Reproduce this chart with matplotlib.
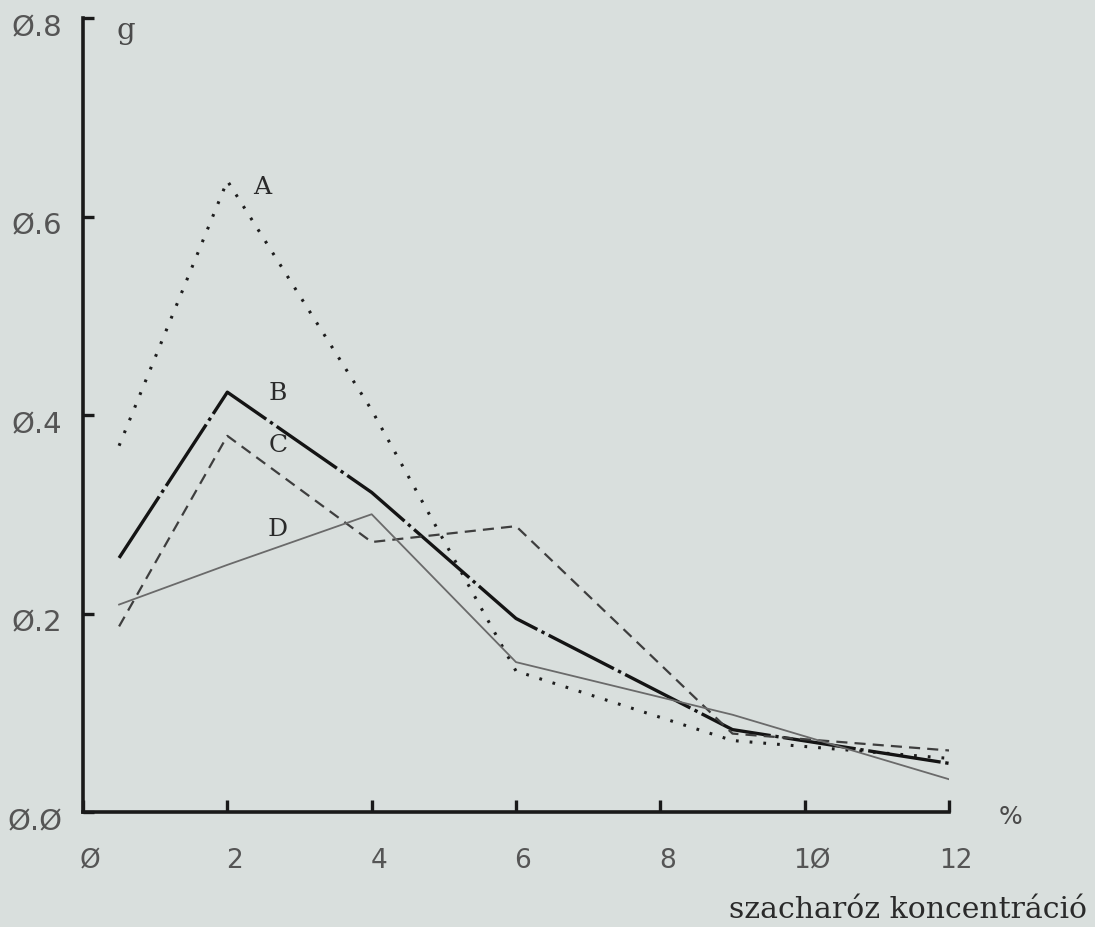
import matplotlib
matplotlib.use("Agg")
import matplotlib.pyplot as plt
import matplotlib.transforms as mtransforms

# ---- data ----
conc = [0.5, 2, 4, 6, 9, 12]
series_A = [0.369, 0.636, 0.405, 0.142, 0.072, 0.054]
series_B = [0.256, 0.423, 0.322, 0.195, 0.083, 0.049]
series_C = [0.187, 0.379, 0.272, 0.288, 0.079, 0.062]
series_D = [0.209, 0.249, 0.300, 0.151, 0.098, 0.033]
series_names = ["A", "B", "C", "D"]

x_ticks = [0, 2, 4, 6, 8, 10, 12]
x_tick_labels = ["Ø", "2", "4", "6", "8", "1Ø", "12"]
y_ticks = [0.0, 0.2, 0.4, 0.6, 0.8]
y_tick_labels = ["Ø.Ø", "Ø.2", "Ø.4", "Ø.6", "Ø.8"]

y_unit = "g"
x_unit = "%"
x_title = "szacharóz koncentráció"

# ---- figure ----
W, H = 1095, 927
bg = "#d9dfdd"
fig = plt.figure(figsize=(W / 100, H / 100), dpi=100, facecolor=bg)
ax = fig.add_axes([83 / W, (H - 812) / H, (949 - 83) / W, (812 - 18) / H])
ax.set_facecolor(bg)

ax.plot(conc, series_A, color="#1e1e1e", lw=2.2, linestyle=(0, (0.9, 3.6)))
ax.plot(conc, series_B, color="#141414", lw=2.4, linestyle=(0, (22, 1.4, 1.0, 1.4)))
ax.plot(conc, series_C, color="#3e3e3e", lw=1.6, linestyle=(0, (5.0, 3.2)))
ax.plot(conc, series_D, color="#6a6a6a", lw=1.3, linestyle="-")

ax.set_xlim(0, 12)
ax.set_ylim(0, 0.8)

for s in ["top", "right"]:
    ax.spines[s].set_visible(False)
for s in ["left", "bottom"]:
    ax.spines[s].set_linewidth(2.6)
    ax.spines[s].set_color("#1a1a1a")

ax.set_xticks(x_ticks)
ax.set_xticklabels(x_tick_labels)
ax.set_yticks(y_ticks)
ax.set_yticklabels(y_tick_labels)

ax.tick_params(axis="x", direction="in", length=9, width=2.4, color="#1a1a1a",
               pad=26, labelsize=19, labelcolor="#555555")
ax.tick_params(axis="y", direction="in", length=8, width=2.4, color="#1a1a1a",
               pad=15, labelsize=21, labelcolor="#555555")

dx = mtransforms.ScaledTranslation(5 / 72, 0, fig.dpi_scale_trans)
for lab in ax.get_xticklabels():
    lab.set_transform(lab.get_transform() + dx)
dy = mtransforms.ScaledTranslation(0, -5 / 72, fig.dpi_scale_trans)
for lab in ax.get_yticklabels():
    lab.set_transform(lab.get_transform() + dy)

serif = "DejaVu Serif"
# curve labels (positions in figure pixels)
label_pos = [(262, 187), (278, 393), (278, 445), (278, 530)]
for name, (px, py) in zip(series_names, label_pos):
    fig.text(px / W, 1 - py / H, name, family=serif, fontsize=18,
             color="#2a2a2a", ha="center", va="center")

fig.text(126 / W, 1 - 31 / H, y_unit, family=serif, fontsize=21,
         color="#4a4a4a", ha="center", va="center")
fig.text(1011 / W, 1 - 817 / H, x_unit, family="DejaVu Sans", fontsize=18,
         color="#4a4a4a", ha="center", va="center")
fig.text(1087 / W, 1 - 910 / H, x_title, family=serif, fontsize=21.5,
         color="#2a2a2a", ha="right", va="center")

fig.savefig("out.png", dpi=100, facecolor=bg)
